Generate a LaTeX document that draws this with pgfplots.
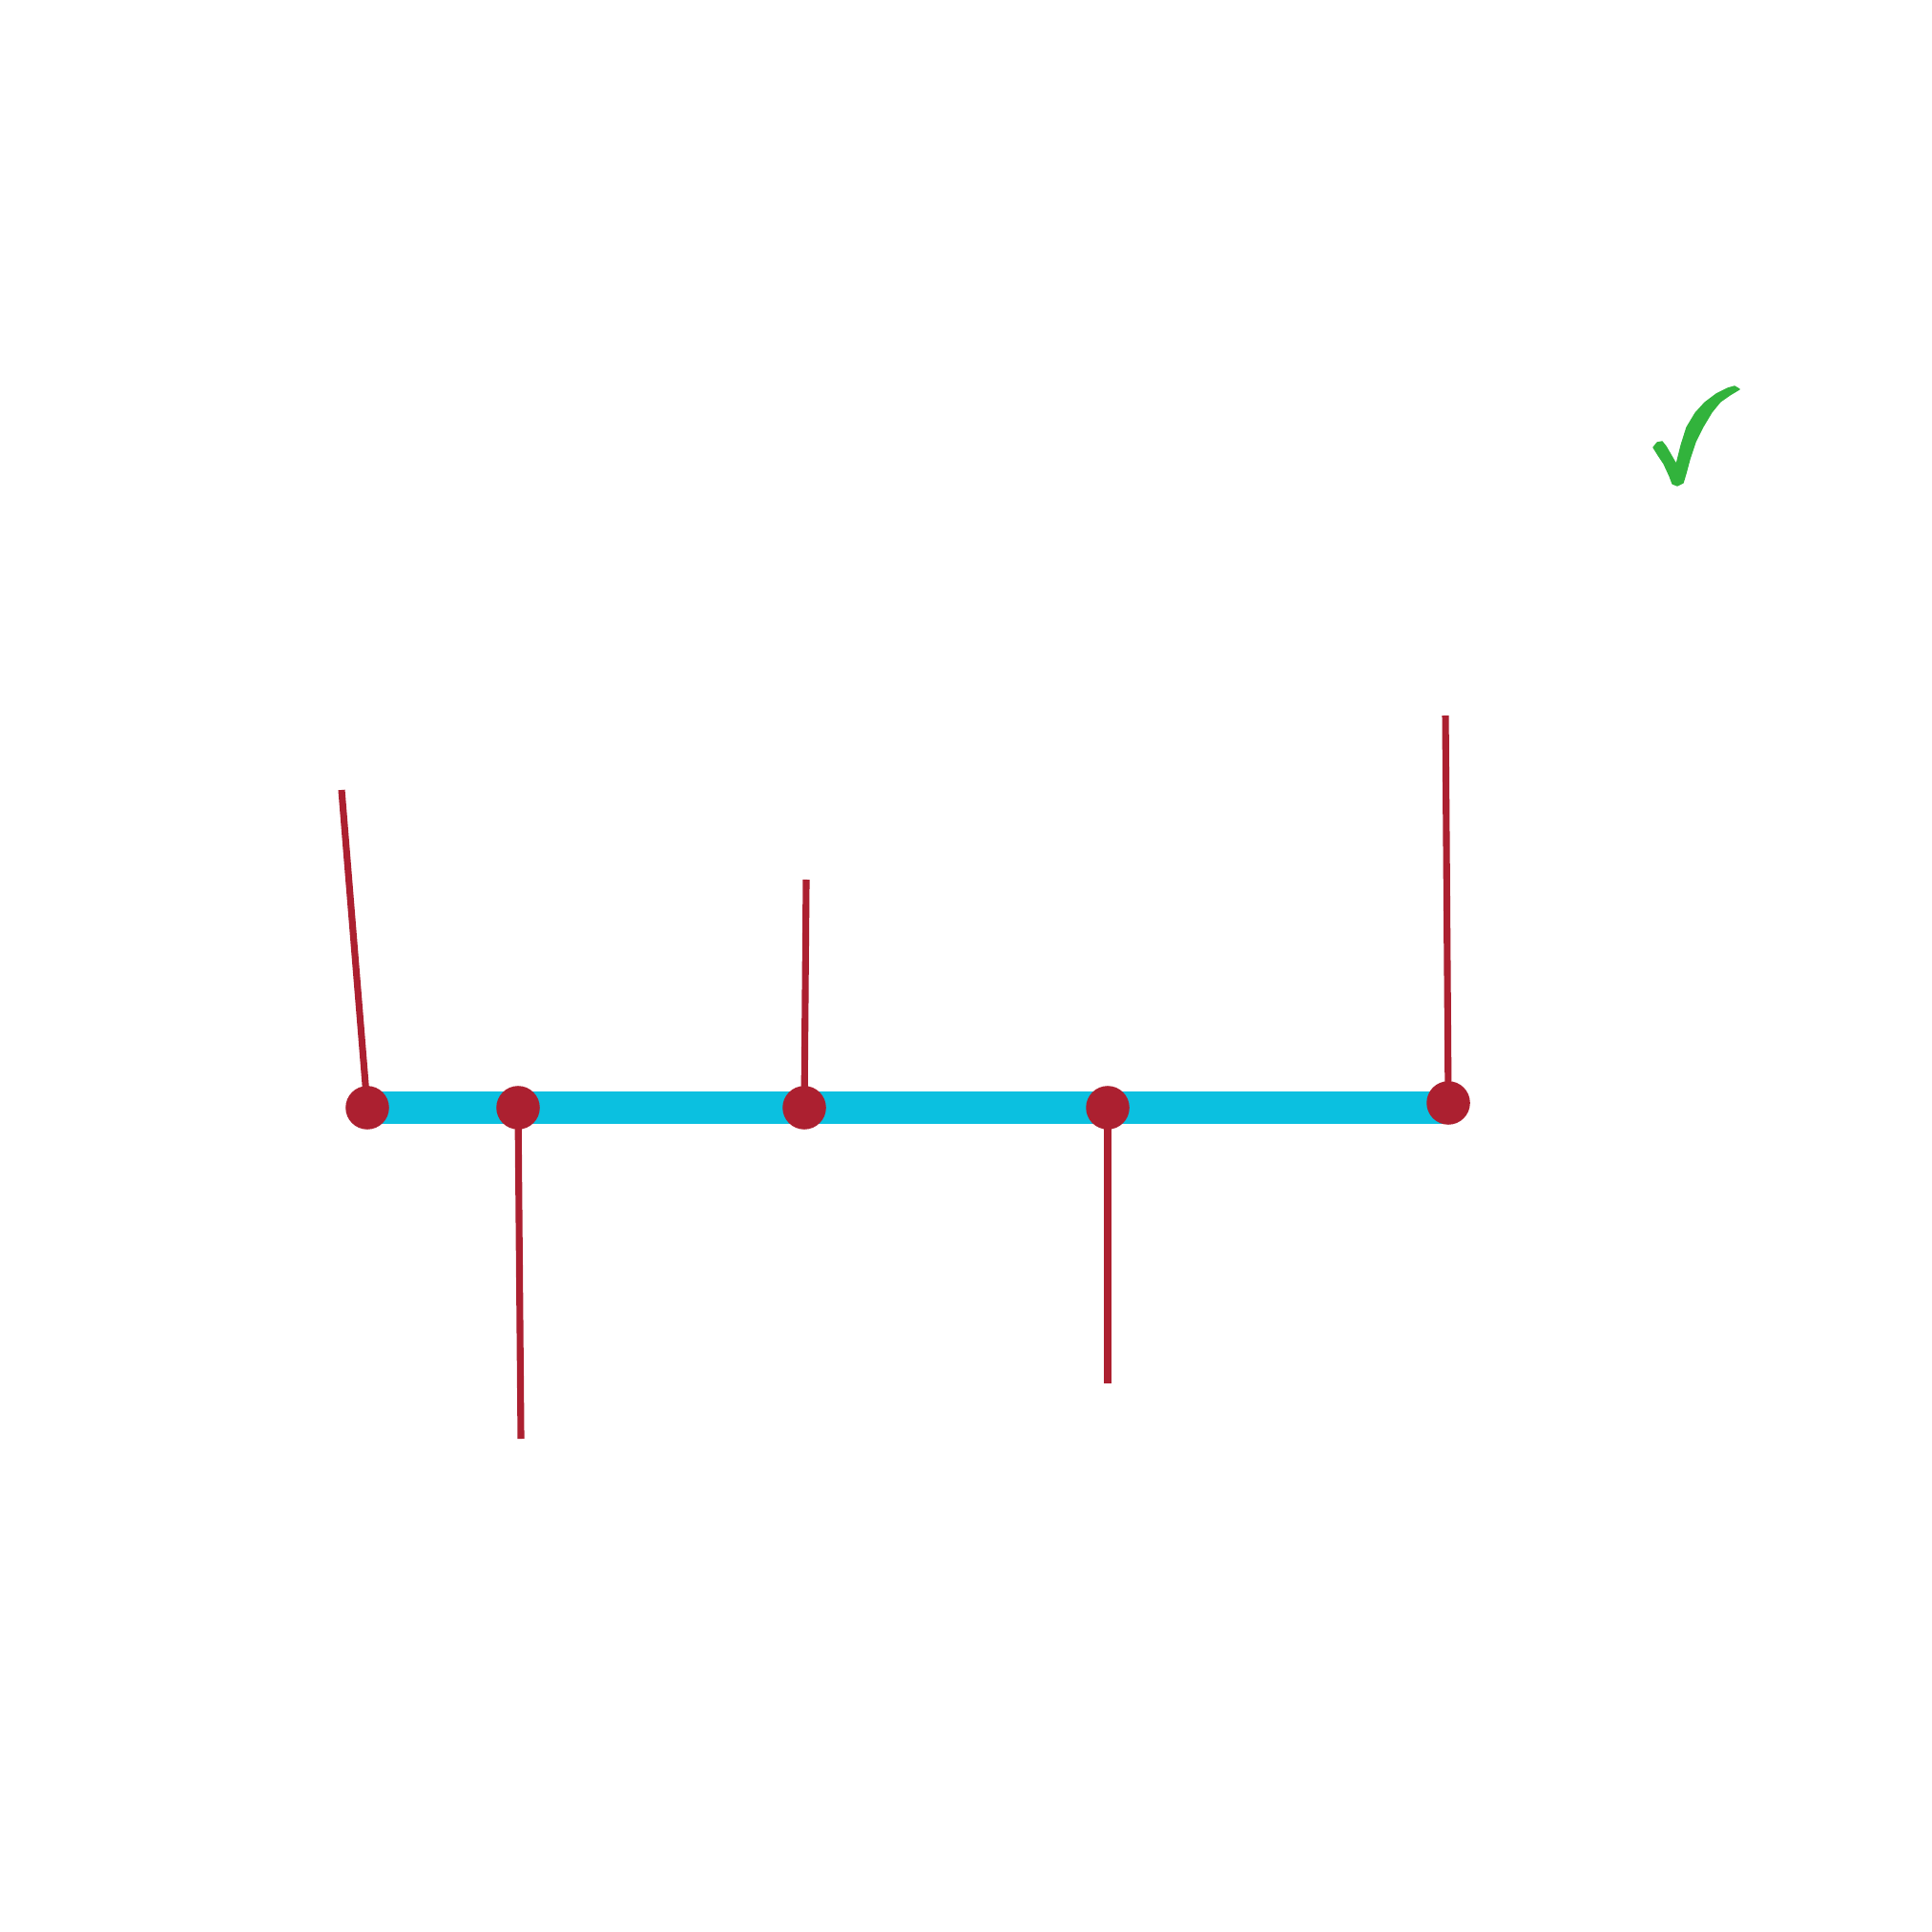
\documentclass[border=0pt]{standalone}
\usepackage{pgfplots}
\pgfplotsset{compat=1.18}
\definecolor{tlcyan}{HTML}{0BC0E0}
\definecolor{tlred}{HTML}{AC2030}
\definecolor{tlgreen}{HTML}{32B33C}
\begin{document}
\begin{tikzpicture}
\begin{axis}[
  width=10cm, height=10cm, scale only axis,
  xmin=0, xmax=2025, ymin=0, ymax=2025, y dir=reverse,
  axis lines=none, clip=false,
]
\fill[white] (axis cs:0,0) rectangle (axis cs:2025,2025);
% timeline bar
\addplot[tlcyan, line width=4.8pt, line cap=butt] coordinates {(385,1161) (1518,1161)};
% stalks
\addplot[tlred, line width=1.0pt] coordinates {(358,828) (385,1161)};
\addplot[tlred, line width=1.0pt] coordinates {(543,1161) (546,1508)};
\addplot[tlred, line width=1.0pt] coordinates {(843,1161) (845,922)};
\addplot[tlred, line width=1.0pt] coordinates {(1161,1161) (1161,1450)};
\addplot[tlred, line width=1.0pt] coordinates {(1518,1156) (1515,750)};
% dots
\addplot[only marks, mark=*, mark size=3.0pt, color=tlred, mark options={fill=tlred, draw=tlred}]
  coordinates {(385,1161) (543,1161) (843,1161) (1161,1161) (1518,1156)};
% check mark (filled brush shape)
\addplot[fill=tlgreen, draw=tlgreen, line width=0.2pt, line join=round]
  coordinates {(1733,469) (1737,464) (1742,463) (1746,468) (1757,487)
  (1762,467) (1768,448) (1777,433) (1787,422) (1799,413) (1811,407) (1818,405) (1823,408)
  (1813,414) (1803,421) (1794,432) (1785,447) (1777,463) (1771,481) (1767,496) (1764,506)
  (1758,509) (1753,507) (1750,499) (1744,486) (1738,477)} -- cycle;
\end{axis}
\end{tikzpicture}
\end{document}
